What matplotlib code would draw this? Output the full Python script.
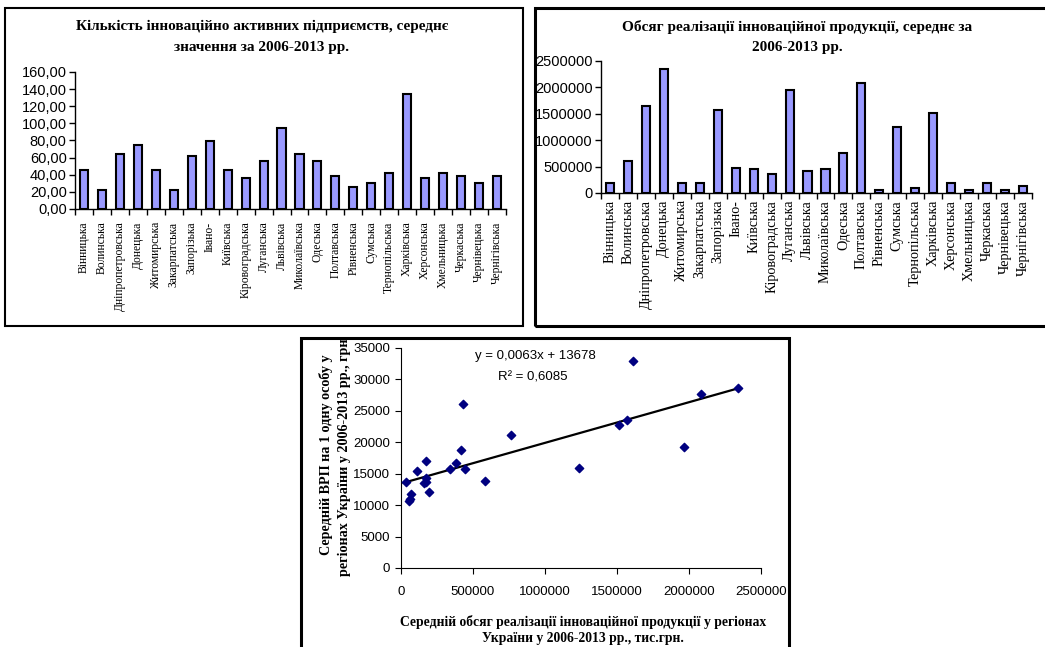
import numpy as np
import matplotlib
matplotlib.use("Agg")
import matplotlib.pyplot as plt
from matplotlib.patches import Rectangle
from matplotlib.ticker import FixedLocator, FuncFormatter

# ---------------- data ----------------
regions = ["Вінницька", "Волинська", "Дніпропетровська", "Донецька", "Житомирська",
           "Закарпатська", "Запорізька", "Івано-", "Київська", "Кіровоградська",
           "Луганська", "Львівська", "Миколаївська", "Одеська", "Полтавська",
           "Рівненська", "Сумська", "Тернопільська", "Харківська", "Херсонська",
           "Хмельницька", "Черкаська", "Чернівецька", "Чернігівська"]

enterprises = [46, 22, 64, 75, 46, 22, 62, 79, 46, 36, 56, 95, 64, 56, 38,
               26, 30, 42, 134, 36, 42, 38, 30, 38]

sales = [190000, 608000, 1645000, 2348000, 190000, 190000, 1570000, 475000,
         450000, 354000, 1956000, 411000, 450000, 766000, 2089000, 63000,
         1253000, 95000, 1506000, 190000, 63000, 190000, 63000, 127000]

scatter_x = [37000, 58000, 63000, 72000, 113000, 160000, 171000, 171000, 171000,
             194000, 340000, 380000, 419000, 428000, 442000, 581000, 762000,
             1234000, 1512000, 1567000, 1611000, 1965000, 2081000, 2338000]
scatter_y = [13650, 10730, 10900, 11720, 15360, 13540, 14375, 13700, 17030,
             12030, 15680, 16670, 18700, 26170, 15680, 13900, 21170,
             15850, 22820, 23620, 32930, 19260, 27660, 28560]

title1 = "Кількість інноваційно активних підприємств, середнє\nзначення за 2006-2013 рр."
title2 = "Обсяг реалізації інноваційної продукції, середнє за\n2006-2013 рр."
xlabel3 = "Середній обсяг реалізації інноваційної продукції у регіонах\nУкраїни у 2006-2013 рр., тис.грн."
ylabel3 = "Середній ВРП на 1 одну особу у\nрегіонах України у 2006-2013 рр., грн."
eq_text = "y = 0,0063x + 13678"
r2_text = "R² = 0,6085"

SERIF = ["Liberation Serif", "DejaVu Serif"]
SANS = ["Liberation Sans", "DejaVu Sans"]
plt.rcParams["font.family"] = SANS

W, H = 1045, 647
fig = plt.figure(figsize=(W / 100, H / 100), dpi=100)


def ax_at(x0, y0, x1, y1):
    return fig.add_axes([x0 / W, 1 - y1 / H, (x1 - x0) / W, (y1 - y0) / H])


def box(x0, y0, x1, y1, lw):
    fig.patches.append(Rectangle((x0 / W, 1 - y1 / H), (x1 - x0) / W, (y1 - y0) / H,
                                 transform=fig.transFigure, fill=False,
                                 edgecolor="black", linewidth=lw, zorder=0))


def style_bar_axes(ax, n, tick_pad, label_size):
    for s in ["top", "right"]:
        ax.spines[s].set_visible(False)
    for s in ["left", "bottom"]:
        ax.spines[s].set_linewidth(1.0)
    ax.set_xlim(-0.5, n - 0.5)
    ax.xaxis.set_major_locator(FixedLocator(range(n)))
    ax.xaxis.set_minor_locator(FixedLocator(np.arange(-0.5, n, 1.0)))
    ax.set_xticklabels(regions, rotation=90, fontfamily=SERIF, fontsize=label_size,
                       va="top", ha="center")
    ax.tick_params(axis="x", which="major", length=0, pad=tick_pad)
    ax.tick_params(axis="x", which="minor", length=4, direction="out", width=1)
    ax.tick_params(axis="y", length=4, direction="out", width=1, pad=2)
    ax.patch.set_alpha(0)


# ---------------- panel 1 ----------------
box(5, 8, 523, 326, 1.5)
ax1 = ax_at(75, 72, 506, 209)
x = np.arange(len(regions))
ax1.bar(x, enterprises, width=0.45, color="#9999FF", edgecolor="black", linewidth=1.5)
ax1.set_ylim(0, 160)
ax1.set_yticks(np.arange(0, 161, 20))
ax1.yaxis.set_major_formatter(FuncFormatter(lambda v, p: f"{v:.2f}".replace(".", ",")))
style_bar_axes(ax1, len(regions), 9, 8.4)
for lab in ax1.get_yticklabels():
    lab.set_fontsize(10.5)
fig.text(262 / W, 1 - 37 / H, title1, ha="center", va="center", fontfamily=SERIF,
         fontweight="bold", fontsize=11, linespacing=1.75)

# ---------------- panel 2 ----------------
box(535, 8, 1050, 326, 2.2)
ax2 = ax_at(601, 61, 1032, 193)
ax2.bar(x, sales, width=0.45, color="#9999FF", edgecolor="black", linewidth=1.5)
ax2.set_ylim(0, 2500000)
ax2.set_yticks(np.arange(0, 2500001, 500000))
ax2.yaxis.set_major_formatter(FuncFormatter(lambda v, p: f"{int(v)}"))
style_bar_axes(ax2, len(regions), 5, 10.2)
for lab in ax2.get_yticklabels():
    lab.set_fontsize(10.5)
fig.text(797 / W, 1 - 37 / H, title2, ha="center", va="center", fontfamily=SERIF,
         fontweight="bold", fontsize=11, linespacing=1.8)

# ---------------- panel 3 ----------------
box(301, 338, 789, 660, 2.2)
ax3 = ax_at(401, 348, 761, 568)
ax3.scatter(scatter_x, scatter_y, marker="D", s=18, color="#000080", zorder=3)
coef = np.polyfit(scatter_x, scatter_y, 1)
xs = np.array([min(scatter_x) - 20000, max(scatter_x)])
ax3.plot(xs, np.polyval(coef, xs), color="black", linewidth=1.6, zorder=2)
ax3.set_xlim(0, 2500000)
ax3.set_ylim(0, 35000)
ax3.set_xticks(np.arange(0, 2500001, 500000))
ax3.set_yticks(np.arange(0, 35001, 5000))
ax3.xaxis.set_major_formatter(FuncFormatter(lambda v, p: f"{int(v)}"))
ax3.yaxis.set_major_formatter(FuncFormatter(lambda v, p: f"{int(v)}"))
for s in ["top", "right"]:
    ax3.spines[s].set_visible(False)
ax3.tick_params(axis="x", length=4, direction="out", pad=9, labelsize=9.5)
ax3.tick_params(axis="y", length=4, direction="out", pad=4, labelsize=9.5)
ax3.patch.set_alpha(0)
fig.text(535 / W, 1 - 356 / H, eq_text, fontsize=9.5, ha="center", va="center")
fig.text(533 / W, 1 - 377 / H, r2_text, fontsize=9.5, ha="center", va="center")
fig.text(583 / W, 1 - 630 / H, xlabel3, ha="center", va="center", fontfamily=SERIF,
         fontweight="bold", fontsize=9.8, linespacing=1.3)
ylab = fig.text(335 / W, 1 - 455 / H, ylabel3, ha="center", va="center", rotation=90,
                fontfamily=SERIF, fontweight="bold", fontsize=10.2, linespacing=1.4)
# clip the y label to the panel frame, as in the original
ylab.set_clip_box(matplotlib.transforms.Bbox.from_extents(0, 0, W, H - 338))
ylab.set_clip_on(True)

fig.savefig("out.png", dpi=100, facecolor="white")
